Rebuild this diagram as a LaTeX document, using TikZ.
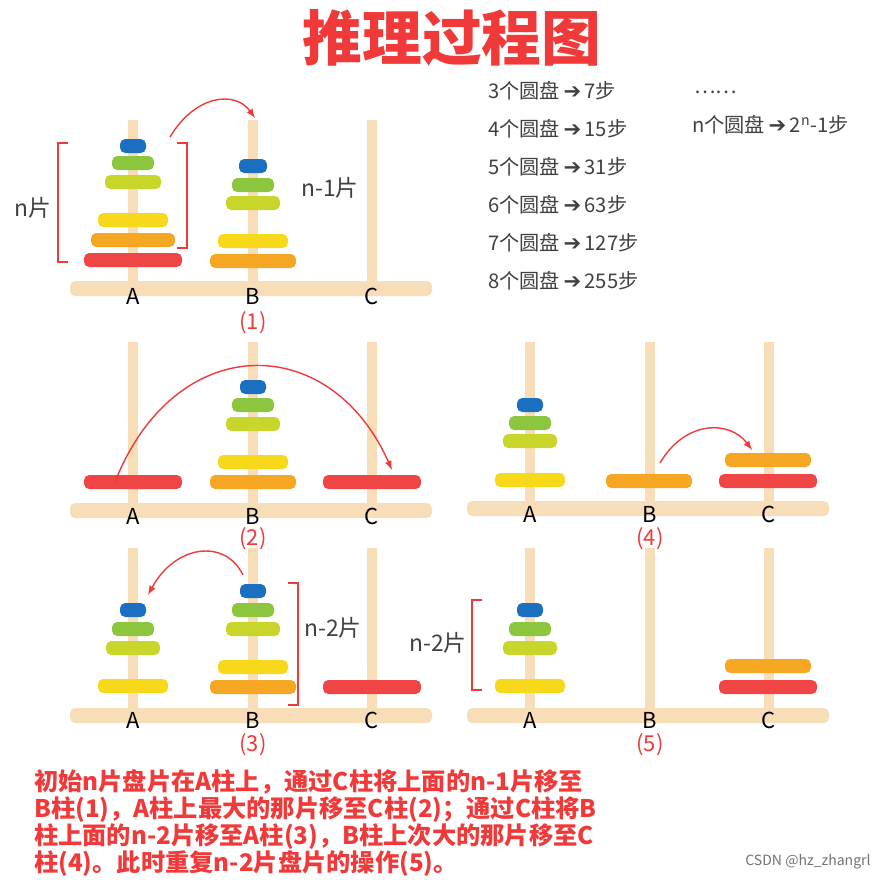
\documentclass[tikz,border=0pt]{standalone}
\usepackage{fontspec}
\newfontfamily\cjk{Noto Sans CJK SC}
\newfontfamily\djv{DejaVu Sans}
\definecolor{pole}{HTML}{F7DDB8}
\definecolor{dred}{HTML}{F04545}
\definecolor{dorange}{HTML}{F5A623}
\definecolor{dyellow}{HTML}{F8D81A}
\definecolor{dlime}{HTML}{C8D62B}
\definecolor{dgreen}{HTML}{8CC63F}
\definecolor{dblue}{HTML}{1A6FC0}
\definecolor{tred}{HTML}{F03A3A}
\tikzset{
  lbl/.style={font=\cjk\fontsize{12.5}{14}\selectfont},
  stepno/.style={font=\cjk\fontsize{12.5}{14}\selectfont,text=tred},
  lst/.style={font=\cjk\fontsize{11.5}{13}\selectfont,text=black!75,anchor=west},
  cnt/.style={font=\cjk\fontsize{13}{15}\selectfont,text=black!75},
  brk/.style={draw=tred,line width=0.8pt},
  arr/.style={draw=tred,line width=0.8pt,-latex},
}
\begin{document}
\begin{tikzpicture}[x=0.02cm,y=-0.02cm]
\useasboundingbox (0,0) rectangle (887,880);
% title
\node[font=\cjk\bfseries\fontsize{34}{38}\selectfont,text=tred] (title) at (452,38) {推理过程图};
% poles and bases
\foreach \sx/\by/\ty in {0/288/120,0/510/342,0/715/548,397/508/342,397/715/548}{%
  \begin{scope}[shift={(\sx,0)}]
    \foreach \x in {133,253,372}{%
      \fill[pole] (\x-5,\ty) rectangle (\x+5,\by);
    }
    \fill[pole,rounded corners=3pt] (70,\by-7) rectangle (432,\by+8);
  \end{scope}
}
% disks
\foreach \x/\y/\w/\c in {%
  133/146/26/dblue,133/163/42/dgreen,133/182/56/dlime,133/220/70/dyellow,133/240/84/dorange,133/260/98/dred,
  253/166/28/dblue,253/185/42/dgreen,253/203/54/dlime,253/241/70/dyellow,253/261/86/dorange,
  133/482/98/dred,253/387/26/dblue,253/405/42/dgreen,253/424/54/dlime,253/462/70/dyellow,253/482/86/dorange,372/482/98/dred,
  530/405/26/dblue,530/423/42/dgreen,530/441/54/dlime,530/480/70/dyellow,649/481/86/dorange,768/460/86/dorange,768/481/98/dred,
  133/610/26/dblue,133/629/42/dgreen,133/648/54/dlime,133/686/70/dyellow,
  253/591/26/dblue,253/610/42/dgreen,253/629/54/dlime,253/667/70/dyellow,253/687/86/dorange,372/687/98/dred,
  530/610/26/dblue,530/629/42/dgreen,530/648/54/dlime,530/686/70/dyellow,768/666/86/dorange,768/687/98/dred}{%
    \fill[\c,rounded corners=3pt] (\x-\w/2,\y-7) rectangle (\x+\w/2,\y+7);
}
% pole labels and step numbers
\foreach \sx/\ly/\sy/\s in {0/296/323/1,0/516/539/2,0/720/745/3,397/514/539/4,397/720/745/5}{%
  \begin{scope}[shift={(\sx,0)}]
    \node[lbl] (A\s) at (133,\ly) {A};
    \node[lbl] (B\s) at (253,\ly) {B};
    \node[lbl] (C\s) at (372,\ly) {C};
    \node[stepno] (S\s) at (253,\sy) {(\s)};
  \end{scope}
}
% brackets
\draw[brk] (68,143) -- (58,143) -- (58,262) -- (68,262);
\draw[brk] (177,143) -- (187,143) -- (187,248) -- (177,248);
\draw[brk] (288,583) -- (298,583) -- (298,705) -- (288,705);
\draw[brk] (482,600) -- (472,600) -- (472,690) -- (482,690);
\node[cnt] (n) at (33,208) {n片};
\node[cnt] (n1) at (330,188) {n-1片};
\node[cnt] (n2a) at (333,628) {n-2片};
\node[cnt] (n2b) at (438,643) {n-2片};
% moves
\coordinate (m1a) at (170,137); \coordinate (m1b) at (255,118);
\coordinate (m2a) at (115,482); \coordinate (m2b) at (392,470);
\coordinate (m3a) at (243,575); \coordinate (m3b) at (148,595);
\coordinate (m4a) at (660,463); \coordinate (m4b) at (752,450);
\draw[arr] (m1a) .. controls (195,95) and (235,90) .. (m1b);
\draw[arr] (m2a) .. controls (175,330) and (330,330) .. (m2b);
\draw[arr] (m3a) .. controls (225,538) and (175,545) .. (m3b);
\draw[arr] (m4a) .. controls (685,420) and (730,420) .. (m4b);
% counts
\foreach \k/\v/\y in {3/7/91,4/15/129,5/31/167,6/63/205,7/127/243,8/255/281}{%
  \node[lst] (L\k) at (482,\y) {\k 个圆盘{\djv\bfseries\large\,➔\,}\v 步};
}
\node[lst] (dots) at (688,92) {……};
\node[lst] (Ln) at (686,125) {n个圆盘{\djv\bfseries\large\,➔\,}2\textsuperscript{n}-1步};
% explanation
\node[anchor=north west,align=left,font=\cjk\bfseries\fontsize{13.8}{15.4}\selectfont,text=tred] (txt) at (28,763)
 {初始n片盘片在A柱上，通过C柱将上面的n-1片移至\\
  B柱(1)，A柱上最大的那片移至C柱(2)；通过C柱将B\\
  柱上面的n-2片移至A柱(3)，B柱上次大的那片移至C\\
  柱(4)。此时重复n-2片盘片的操作(5)。};
\node[font=\cjk\fontsize{8}{9}\selectfont,text=black!55] (csdn) at (808,862) {CSDN @hz\_zhangrl};
\end{tikzpicture}
\end{document}
